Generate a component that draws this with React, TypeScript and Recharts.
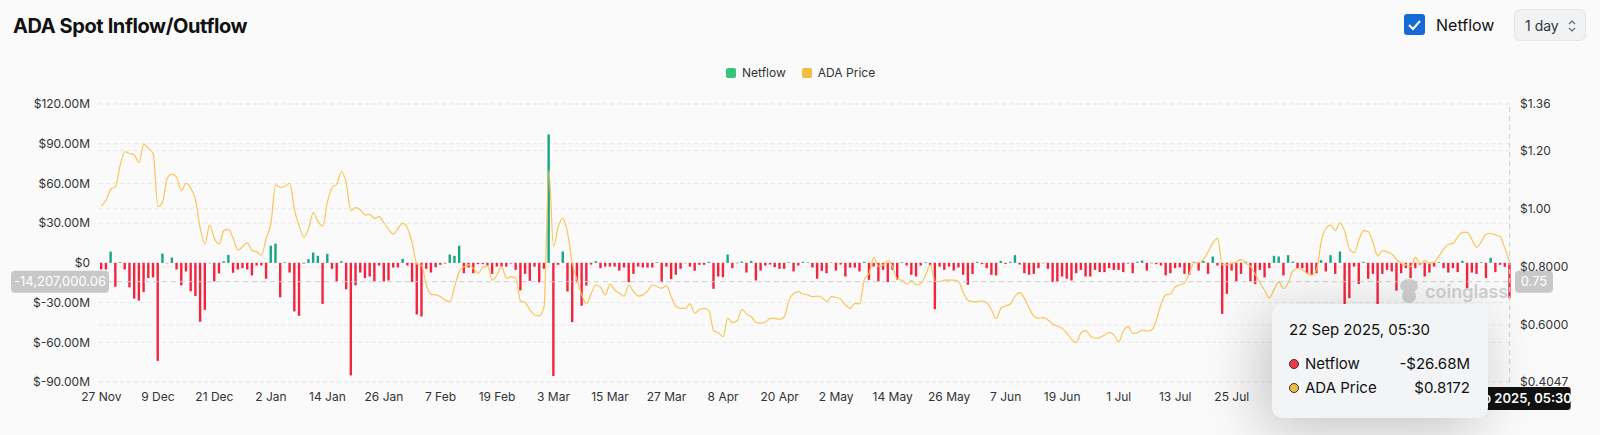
import React from 'react'
import {
  ComposedChart, Bar, Line, XAxis, YAxis, CartesianGrid, ReferenceLine, Cell,
} from 'recharts'

// daily netflow in $M, from 27 Nov 2024 to 22 Sep 2025
const NETFLOW = [
  -5, -5, 8.5, -18, 0.5, -5, -18.5, -27, -28.5, -22, -11.5, -11,
  -74, 7, -0.3, 4, -5, -17, -6.5, -21.5, -25, -44.5, -35.5, -0.3,
  -14, -8, 1.2, 6, -7.5, -5, -4, -5, -9.5, -2, -2, -12,
  13, 14.5, -26, 0.5, -7.3, -36.7, -40, -0.5, 2.8, 7.8, 5.3, -31,
  6.8, -4.5, -14.5, 1.3, -20, -85, -17, -7.3, -11.5, -10.3, -14, -2,
  -14, -13.3, -3.5, -3.5, 3, -2, -14.5, -39, -40.5, -4.5, -7.3, -3.3,
  -1.5, -0.5, 6.3, 5.3, 13, -7.8, -3.5, -7.8, -1, -1, -2, -8.3,
  -2.8, -2.8, -2.8, -0.5, -5.3, -20.8, -8.3, -13.6, -2.8, -14.8, -4.5, 97,
  -85.5, -1.5, 8.6, -21.6, -44.8, -14.8, -32.4, -17.1, -1.3, 1.3, -4, -2.8,
  -2.8, -2.8, -5.8, -3.5, -14.6, -8.3, -2.8, -3.5, -3.5, -3.5, 0.5, -14.6,
  -2.8, -12.3, -9, -4.5, -0.3, -2.8, -6, -1.5, -1.5, 0.8, -19.6, -10.3,
  -10.8, 6.3, -4, -0.3, 1, -7.3, 1.5, -13.3, -5.8, -2, -1.3, -3.3,
  -4.5, -4.5, 0.5, -6.5, -2, 0.8, 0.3, -3.5, -12, -6, -7.8, 0.3,
  -5.8, -1.3, -10.3, -3.5, -3.5, -6.5, 0.8, -12.8, -2.8, -14, -5.3, -14.6,
  -5.3, -12.8, 0.5, -2, -9, -10.3, -2, 0.5, -2, -35, -2.8, -5.3,
  -2.8, -5.8, -3.5, -9, -16.6, -8.4, 0.8, -1, -4, -9, -9.5, 1.5,
  -0.8, 0.8, 5.8, -1.3, -7.8, -9, -8.3, -4, -0.3, -4.5, -14.6, -14.6,
  -10.3, -12, -13.3, -7.8, -5.3, -10.3, -10.3, -5.3, -7, -7, -4, -5.3,
  -5.3, -7, -0.5, -7.8, 0.8, 1.8, -5.8, -0.3, -1, -2, -9.5, -7.8,
  -4, -3.3, -8.3, -9, 0.8, -5.8, 1.5, -8.3, 4.8, -2, -38.5, -23.4,
  -5.8, -14, -8.3, 0.8, -14, -16, -5.3, -11, -4, 5.3, 4.8, -9.5,
  5.8, 1, -4, -4, -7.8, -9, -7.8, 2, -6.5, 5.8, -8.3, 8.6,
  -36, -26.6, -2.8, -16, 0.8, -12, -8.3, -35, -8.3, -5.3, -6.5, -21,
  -7.8, -4, -11.5, -4, -1.5, -10.3, -7.3, -2.8, 0.5, -4, -7.3, -4,
  -7, 1.5, -19, -7.3, -8.3, 0.5, -11.5, 3.8, -7, -1.5, -3, -26.68,
]

// ADA close price, same days
const PRICE = [
  1.010, 1.030, 1.067, 1.076, 1.150, 1.196, 1.190, 1.185, 1.158, 1.222, 1.208, 1.190,
  1.007, 1.024, 1.105, 1.119, 1.108, 1.062, 1.087, 1.070, 1.030, 0.933, 0.879, 0.944,
  0.898, 0.879, 0.925, 0.929, 0.898, 0.858, 0.870, 0.883, 0.856, 0.852, 0.841, 0.898,
  0.950, 1.082, 1.073, 1.078, 1.087, 0.996, 0.941, 0.902, 0.933, 0.987, 0.956, 0.941,
  1.024, 1.073, 1.085, 1.128, 1.087, 0.993, 1.004, 0.996, 0.979, 0.981, 0.967, 0.973,
  0.952, 0.929, 0.913, 0.933, 0.950, 0.933, 0.881, 0.810, 0.805, 0.738, 0.706, 0.704,
  0.698, 0.686, 0.680, 0.732, 0.784, 0.801, 0.807, 0.795, 0.778, 0.799, 0.803, 0.755,
  0.772, 0.801, 0.761, 0.767, 0.761, 0.683, 0.678, 0.652, 0.635, 0.632, 0.664, 1.133,
  0.870, 0.938, 0.967, 0.915, 0.812, 0.755, 0.704, 0.673, 0.709, 0.738, 0.730, 0.704,
  0.741, 0.721, 0.709, 0.700, 0.738, 0.715, 0.700, 0.704, 0.718, 0.738, 0.732, 0.727,
  0.735, 0.698, 0.664, 0.658, 0.658, 0.673, 0.641, 0.654, 0.658, 0.650, 0.581, 0.574,
  0.560, 0.623, 0.609, 0.615, 0.654, 0.638, 0.629, 0.609, 0.606, 0.611, 0.623, 0.623,
  0.620, 0.629, 0.686, 0.709, 0.715, 0.707, 0.704, 0.698, 0.700, 0.695, 0.681, 0.698,
  0.695, 0.689, 0.669, 0.658, 0.675, 0.673, 0.757, 0.778, 0.833, 0.801, 0.807, 0.822,
  0.801, 0.757, 0.755, 0.741, 0.753, 0.738, 0.744, 0.772, 0.807, 0.750, 0.750, 0.755,
  0.755, 0.755, 0.750, 0.712, 0.686, 0.681, 0.681, 0.683, 0.677, 0.652, 0.623, 0.658,
  0.666, 0.673, 0.700, 0.712, 0.692, 0.658, 0.631, 0.623, 0.626, 0.618, 0.603, 0.597,
  0.589, 0.572, 0.551, 0.540, 0.574, 0.581, 0.563, 0.555, 0.558, 0.566, 0.575, 0.566,
  0.543, 0.581, 0.595, 0.572, 0.574, 0.583, 0.580, 0.583, 0.618, 0.673, 0.704, 0.707,
  0.732, 0.738, 0.746, 0.778, 0.815, 0.815, 0.826, 0.853, 0.883, 0.898, 0.807, 0.807,
  0.812, 0.818, 0.826, 0.812, 0.801, 0.775, 0.746, 0.719, 0.694, 0.723, 0.749, 0.726,
  0.746, 0.787, 0.795, 0.790, 0.778, 0.772, 0.790, 0.887, 0.933, 0.944, 0.925, 0.952,
  0.921, 0.861, 0.849, 0.893, 0.925, 0.921, 0.883, 0.838, 0.856, 0.852, 0.844, 0.826,
  0.812, 0.807, 0.801, 0.833, 0.809, 0.822, 0.812, 0.816, 0.838, 0.861, 0.878, 0.881,
  0.904, 0.919, 0.919, 0.893, 0.867, 0.887, 0.913, 0.915, 0.910, 0.904, 0.864, 0.8172,
]

// tick labels visible in the reference (later ones sit under the tooltip)
const X_TICKS = [
  '27 Nov', '9 Dec', '21 Dec', '2 Jan', '14 Jan', '26 Jan', '7 Feb', '19 Feb',
  '3 Mar', '15 Mar', '27 Mar', '8 Apr', '20 Apr', '2 May', '14 May', '26 May',
  '7 Jun', '19 Jun', '1 Jul', '13 Jul', '25 Jul',
]
const LEFT_TICKS = [-90, -60, -30, 0, 30, 60, 90, 120]
const RIGHT_TICKS = [0.4047, 0.6, 0.8, 1.0, 1.2, 1.36]
const RIGHT_TICK_LABELS = ['$0.4047', '$0.6000', '$0.8000', '$1.00', '$1.20', '$1.36']

const MONTHS = ['Jan', 'Feb', 'Mar', 'Apr', 'May', 'Jun', 'Jul', 'Aug', 'Sep', 'Oct', 'Nov', 'Dec']
const START = Date.UTC(2024, 10, 27)
const DATES = NETFLOW.map((_, i) => {
  const d = new Date(START + i * 86400000)
  return `${d.getUTCDate()} ${MONTHS[d.getUTCMonth()]}`
})

const CROSS_FLOW = -14.207
const CROSS_LABEL = '-14,207,000.06'
const CROSS_PRICE_LABEL = '0.75'
const TIP_TIME = '22 Sep 2025, 05:30'

const GREEN = '#19a583'
const RED = '#f2253f'
const GOLD = '#f8c65a'
const FONT = 'Inter, Roboto, sans-serif'

const data = DATES.map((date, i) => ({ date, netflow: NETFLOW[i], price: PRICE[i] }))

const fmtLeft = (v: number) => (v === 0 ? '$0' : `$${v.toFixed(2)}M`)
const fmtRight = (v: number) => RIGHT_TICK_LABELS[RIGHT_TICKS.indexOf(v)] ?? String(v)

function HLabel(props: any) {
  const vb = props.viewBox
  if (!vb) return null
  const right = vb.x + vb.width
  return (
    <g>
      <rect x={vb.x - 88} y={vb.y - 11} width={98} height={22} rx={4} fill="#c8c8c8" />
      <text x={vb.x - 39} y={vb.y + 4.5} textAnchor="middle" fill="#fff" fontSize={13}>
        {CROSS_LABEL}
      </text>
      <rect x={right + 3} y={vb.y - 11} width={38} height={22} rx={4} fill="#c8c8c8" />
      <text x={right + 22} y={vb.y + 4.5} textAnchor="middle" fill="#fff" fontSize={13}>
        {CROSS_PRICE_LABEL}
      </text>
    </g>
  )
}

function VLabel(props: any) {
  const vb = props.viewBox
  if (!vb) return null
  const bottom = vb.y + vb.height
  return (
    <g>
      <rect x={vb.x - 61} y={bottom + 5} width={122} height={23} rx={3} fill="#111" />
      <text x={vb.x} y={bottom + 21} textAnchor="middle" fill="#fff" fontSize={13} fontWeight={600}>
        {TIP_TIME}
      </text>
    </g>
  )
}

export default function App() {
  const last = data[data.length - 1]
  return (
    <div style={{ position: 'relative', width: 1600, height: 435, background: '#fafafa', fontFamily: FONT, color: '#111', overflow: 'hidden' }}>
      <style>{'body{margin:0}'}</style>

      <div style={{ position: 'absolute', left: 13, top: 14, fontSize: 20, lineHeight: '24px', fontWeight: 700, letterSpacing: -0.4 }}>
        ADA Spot Inflow/Outflow
      </div>

      <div style={{ position: 'absolute', left: 1404, top: 14, width: 21, height: 21, borderRadius: 3, background: '#1769d6' }}>
        <svg width={21} height={21}>
          <path d="M5 11 L9 15 L16 7" stroke="#fff" strokeWidth={2} fill="none" />
        </svg>
      </div>
      <div style={{ position: 'absolute', left: 1436, top: 15, fontSize: 16, lineHeight: '20px' }}>Netflow</div>
      <div style={{ position: 'absolute', left: 1514, top: 9, width: 72, height: 32, borderRadius: 6, border: '1px solid #e3e5e8', background: '#f1f2f4', fontSize: 14, lineHeight: '32px', boxSizing: 'border-box', paddingLeft: 10, color: '#333' }}>
        1 day
        <svg width={10} height={14} style={{ position: 'absolute', left: 52, top: 9 }}>
          <path d="M2 5 L5 2 L8 5 M2 9 L5 12 L8 9" stroke="#666" strokeWidth={1.2} fill="none" />
        </svg>
      </div>

      <div style={{ position: 'absolute', left: 726, top: 66, display: 'flex', alignItems: 'center', fontSize: 12, color: '#333', lineHeight: '14px' }}>
        <span style={{ width: 10, height: 10, background: '#39c27a', borderRadius: 2, marginRight: 6 }} />
        <span style={{ marginRight: 16 }}>Netflow</span>
        <span style={{ width: 10, height: 10, background: '#f1bd42', borderRadius: 2, marginRight: 6 }} />
        <span>ADA Price</span>
      </div>

      <div style={{ position: 'absolute', left: 0, top: 0 }}>
        <ComposedChart width={1600} height={435} data={data} margin={{ top: 104, right: 8, bottom: 23, left: 9 }} barCategoryGap={0}>
          <CartesianGrid yAxisId="left" vertical={false} stroke="#e9e9e9" strokeDasharray="4 3" />
          <CartesianGrid yAxisId="right" vertical={false} stroke="#e9e9e9" strokeDasharray="4 3" />
          <XAxis dataKey="date" ticks={X_TICKS} interval={0} axisLine={false} tickLine={false} tickSize={0} tickMargin={10} tick={{ fontSize: 12, fill: '#333' }} />
          <YAxis yAxisId="left" orientation="left" width={90} domain={[-90, 120]} ticks={LEFT_TICKS} tickFormatter={fmtLeft} axisLine={false} tickLine={false} tickSize={0} tickMargin={9} tick={{ fontSize: 12, fill: '#333' }} />
          <YAxis yAxisId="right" orientation="right" width={80} domain={[0.4047, 1.36]} ticks={RIGHT_TICKS} tickFormatter={fmtRight} axisLine={false} tickLine={false} tickSize={0} tickMargin={8} tick={{ fontSize: 12, fill: '#333' }} />
          <Bar yAxisId="left" dataKey="netflow" barSize={2.4} isAnimationActive={false}>
            {data.map((d, i) => (
              <Cell key={i} fill={d.netflow >= 0 ? GREEN : RED} />
            ))}
          </Bar>
          <Line yAxisId="right" type="monotone" dataKey="price" stroke={GOLD} strokeWidth={1.2} dot={false} isAnimationActive={false} />
          <ReferenceLine yAxisId="left" y={CROSS_FLOW} stroke="#cfcfcf" strokeDasharray="5 4" label={<HLabel />} />
          <ReferenceLine yAxisId="left" x={last.date} stroke="#cfcfcf" strokeDasharray="5 4" label={<VLabel />} />
        </ComposedChart>
      </div>

      <div style={{ position: 'absolute', left: 1397, top: 277, display: 'flex', alignItems: 'center', color: '#cdcdcd', opacity: 0.9 }}>
        <svg width={24} height={28}>
          <ellipse cx={12} cy={9} rx={9} ry={7} fill="#cdcdcd" />
          <ellipse cx={12} cy={19} rx={7} ry={7} fill="#cdcdcd" />
        </svg>
        <span style={{ fontSize: 18, fontWeight: 600, marginLeft: 4 }}>coinglass</span>
      </div>

      <div style={{ position: 'absolute', left: 1272, top: 304, width: 216, height: 114, borderRadius: 10, background: '#f3f4f6', boxShadow: '-10px 12px 60px rgba(0,0,0,0.22)', boxSizing: 'border-box', padding: '16px 18px 0 17px', fontSize: 15, color: '#111' }}>
        <div style={{ lineHeight: '20px' }}>{TIP_TIME}</div>
        <div style={{ display: 'flex', alignItems: 'center', marginTop: 14, lineHeight: '20px' }}>
          <span style={{ width: 8, height: 8, borderRadius: 5, background: '#ef3a4a', border: '1px solid #333', marginRight: 6 }} />
          <span style={{ flex: 1 }}>Netflow</span>
          <span>-${Math.abs(last.netflow).toFixed(2)}M</span>
        </div>
        <div style={{ display: 'flex', alignItems: 'center', marginTop: 4, lineHeight: '20px' }}>
          <span style={{ width: 8, height: 8, borderRadius: 5, background: '#eebb45', border: '1px solid #333', marginRight: 6 }} />
          <span style={{ flex: 1 }}>ADA Price</span>
          <span>${last.price.toFixed(4)}</span>
        </div>
      </div>
    </div>
  )
}
